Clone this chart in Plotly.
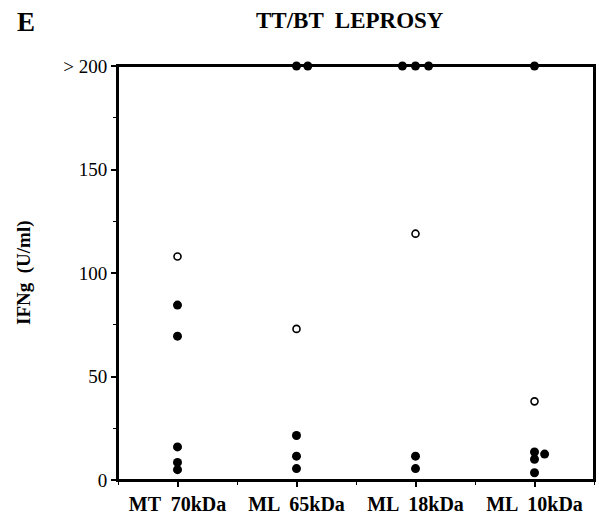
import plotly.graph_objects as go

categories = ["MT  70kDa", "ML  65kDa", "ML  18kDa", "ML  10kDa"]
y_tick_vals = [0, 50, 100, 150, 200]
y_tick_text = ["0", "50", "100", "150", "> 200"]

# filled circles: (category index, value, horizontal jitter in category units)
filled_cat = [0, 0, 0, 0, 0,
              1, 1, 1, 1, 1,
              2, 2, 2, 2, 2,
              3, 3, 3, 3, 3]
filled_val = [84.5, 69.5, 16, 8.5, 5,
              200, 200, 21.5, 11.5, 5.5,
              200, 200, 200, 11.5, 5.5,
              200, 13.5, 10, 3.5, 12.5]
filled_jit = [0, 0, 0, 0, 0,
              0, 0.095, 0, 0, 0,
              -0.11, 0, 0.11, 0, 0,
              0, 0, 0, 0, 0.085]

# open circles
open_cat = [0, 1, 2, 3]
open_val = [108, 73, 119, 38]

fx = [c + j for c, j in zip(filled_cat, filled_jit)]

fig = go.Figure()
fig.add_trace(go.Scatter(
    x=fx, y=filled_val, mode="markers",
    marker=dict(size=9, color="black", line=dict(width=0)),
    cliponaxis=False, showlegend=False))
fig.add_trace(go.Scatter(
    x=open_cat, y=open_val, mode="markers",
    marker=dict(size=7, color="white", line=dict(width=1.6, color="black")),
    cliponaxis=False, showlegend=False))

serif = "Liberation Serif"
L, R, T, B, W, H = 118, 5, 66, 39, 599, 519
pw, ph = W - L - R, H - T - B


def px(x):
    return (x - L) / pw


def py(y):
    return (H - B - y) / ph


fig.update_layout(
    width=W, height=H,
    margin=dict(l=L, r=R, t=T, b=B, pad=0, autoexpand=False),
    paper_bgcolor="white", plot_bgcolor="white",
    font=dict(family=serif, color="black"),
    showlegend=False,
)
fig.update_xaxes(
    range=[-0.5, 3.5], tickvals=[0, 1, 2, 3], ticktext=categories,
    showline=True, linecolor="black", linewidth=2, mirror=True,
    ticks="outside", ticklen=5, tickwidth=1.5, tickcolor="black",
    minor=dict(ticks="outside", dtick=0.5, tick0=0, ticklen=3, tickwidth=1, tickcolor="black"),
    showgrid=False, zeroline=False, automargin=False,
    tickfont=dict(family=serif, size=20, color="black", weight="bold"),
)
fig.update_yaxes(
    range=[0, 200], tickvals=y_tick_vals, ticktext=y_tick_text,
    showline=True, linecolor="black", linewidth=2, mirror=True,
    ticks="outside", ticklen=5, tickwidth=1.5, tickcolor="black",
    minor=dict(ticks="outside", dtick=25, ticklen=3, tickwidth=1, tickcolor="black"),
    showgrid=False, zeroline=False, automargin=False,
    tickfont=dict(family=serif, size=19, color="black"),
)
# plot frame
fig.add_shape(type="rect", xref="paper", yref="paper", x0=0, y0=0, x1=1, y1=1,
              line=dict(color="black", width=2), layer="below")
fig.add_annotation(text="<b>IFNg  (U/ml)</b>", xref="paper", yref="paper",
                   x=px(24), y=py(273), textangle=-90, showarrow=False,
                   font=dict(family=serif, size=19, color="black"),
                   xanchor="center", yanchor="middle")
fig.add_annotation(text="<b>TT/BT  LEPROSY</b>", xref="paper", yref="paper",
                   x=px(350), y=py(21),
                   showarrow=False, font=dict(family=serif, size=23, color="black"),
                   xanchor="center", yanchor="middle")
fig.add_annotation(text="<b>E</b>", xref="paper", yref="paper",
                   x=px(26), y=py(22),
                   showarrow=False, font=dict(family=serif, size=27, color="black"),
                   xanchor="center", yanchor="middle")
fig.write_html("out.html", config={"displayModeBar": False},
               post_script="document.body.style.margin='0';document.body.style.overflow='hidden';")
